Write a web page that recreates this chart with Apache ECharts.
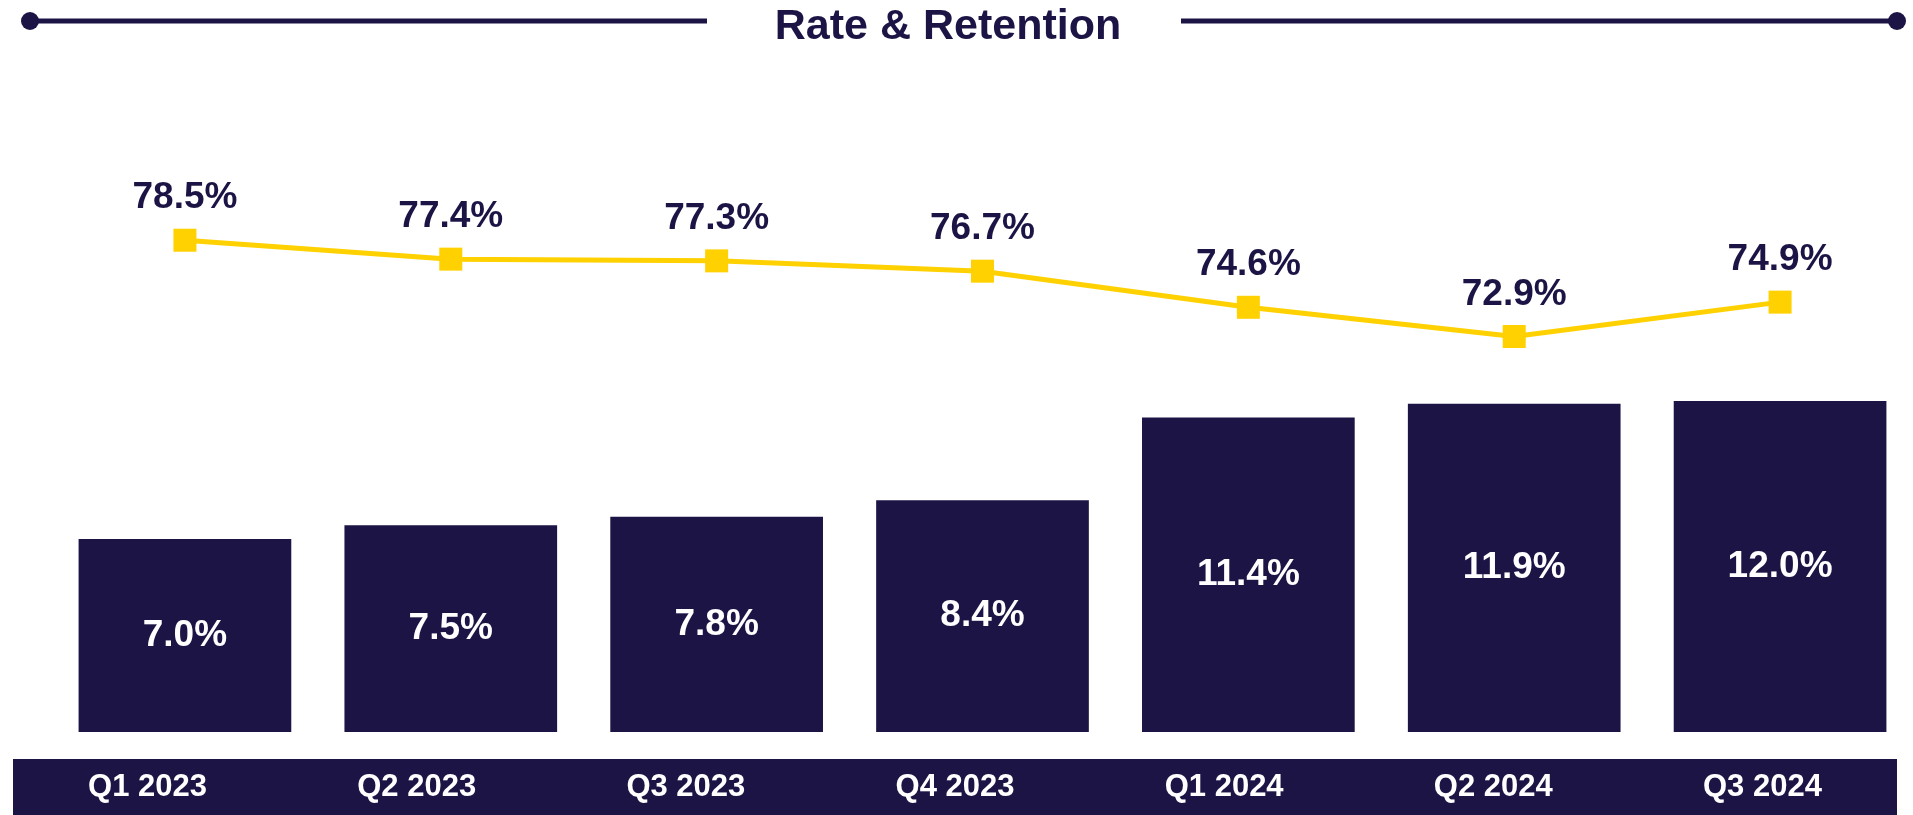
<html>
<head>
    <meta charset="utf-8">
    <style>
        html, body { margin: 0; padding: 0; background: #fff; }
    </style>
</head>
<body>
    <script src="https://cdn.jsdelivr.net/npm/echarts@6/dist/echarts.min.js"></script>

    <div id="main" style="width: 1913px;height: 815px"></div>

    <script>
var quarters = ['Q1 2023', 'Q2 2023', 'Q3 2023', 'Q4 2023', 'Q1 2024', 'Q2 2024', 'Q3 2024'];
var rateValues = [7.0, 7.5, 7.8, 8.4, 11.4, 11.9, 12.0];
var retentionValues = [78.5, 77.4, 77.3, 76.7, 74.6, 72.9, 74.9];

var navy = '#1C1445';
var gold = '#FFD100';
var font = '"Liberation Sans", Arial, sans-serif';

var myChart = echarts.init(document.getElementById('main'));

var option = {
    animation: false,
    title: {
        text: 'Rate & Retention',
        left: 943,
        top: 1,
        textAlign: 'center',
        textStyle: {
            color: navy,
            fontSize: 43,
            fontWeight: 'bold',
            fontFamily: font
        }
    },
    graphic: [
        // header rules with dots
        { type: 'line', shape: { x1: 30, y1: 21, x2: 707, y2: 21 }, style: { stroke: navy, lineWidth: 5 } },
        { type: 'line', shape: { x1: 1181, y1: 21, x2: 1897, y2: 21 }, style: { stroke: navy, lineWidth: 5 } },
        { type: 'circle', shape: { cx: 30, cy: 21, r: 9 }, style: { fill: navy } },
        { type: 'circle', shape: { cx: 1897, cy: 21, r: 9 }, style: { fill: navy } }
    ],
    grid: [
        { left: 52, right: 0, top: 70, bottom: 83 },
        { left: 13, right: 16, top: 759, bottom: 0, show: true, backgroundColor: navy, borderWidth: 0 }
    ],
    xAxis: [
        {
            type: 'category',
            gridIndex: 0,
            data: quarters,
            axisLine: { show: false },
            axisTick: { show: false },
            axisLabel: { show: false }
        },
        {
            type: 'category',
            gridIndex: 1,
            data: quarters,
            position: 'bottom',
            offset: -28,
            axisLine: { show: false },
            axisTick: { show: false },
            axisLabel: {
                margin: 0,
                verticalAlign: 'middle',
                color: '#fff',
                fontSize: 31,
                fontWeight: 'bold',
                fontFamily: font
            }
        }
    ],
    yAxis: [
        { type: 'value', gridIndex: 0, min: 0, max: 24, show: false, splitLine: { show: false } },
        { type: 'value', gridIndex: 0, min: 49.9, max: 88.4, show: false, splitLine: { show: false } },
        { type: 'value', gridIndex: 1, show: false, splitLine: { show: false } }
    ],
    series: [
        {
            name: 'Rate',
            type: 'bar',
            xAxisIndex: 0,
            yAxisIndex: 0,
            data: rateValues,
            barCategoryGap: '20%',
            itemStyle: { color: navy },
            label: {
                show: true,
                position: 'inside',
                formatter: function (p) { return p.value.toFixed(1) + '%'; },
                color: '#fff',
                fontSize: 37,
                fontWeight: 'bold',
                fontFamily: font
            }
        },
        {
            name: 'Retention',
            type: 'line',
            xAxisIndex: 0,
            yAxisIndex: 1,
            data: retentionValues,
            symbol: 'rect',
            symbolSize: 23,
            lineStyle: { color: gold, width: 5 },
            itemStyle: { color: gold },
            label: {
                show: true,
                position: 'top',
                distance: 12,
                formatter: function (p) { return p.value.toFixed(1) + '%'; },
                color: navy,
                fontSize: 37,
                fontWeight: 'bold',
                fontFamily: font
            }
        }
    ]
};

myChart.setOption(option);
    </script>
</body>
</html>
